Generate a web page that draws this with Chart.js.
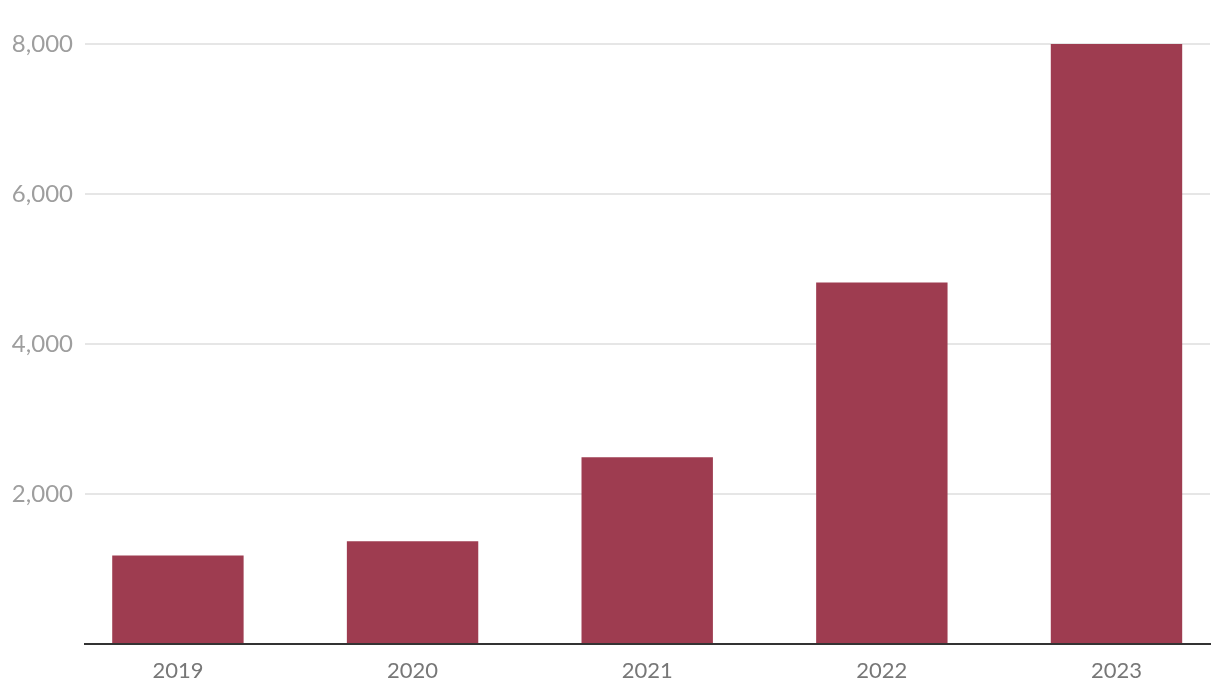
<!DOCTYPE html>
<html lang="en">
<head>
    <meta charset="UTF-8">
    <title>Bar chart 2019-2023</title>
    <script src="https://cdn.jsdelivr.net/npm/chart.js"></script>
    <style>
        html, body { margin: 0; padding: 0; background: #fff; overflow: hidden; }
        .wrap { width: 1220px; height: 696px; }
    </style>
</head>
<body>
    <div class="wrap"><canvas id="graphique"></canvas></div>

    <script>
        // Données
        const years = ['2019', '2020', '2021', '2022', '2023'];
        const values = [1180, 1370, 2490, 4820, 8000];
        const yTicks = [0, 2000, 4000, 6000, 8000];

        const ctx = document.getElementById('graphique').getContext('2d');

        new Chart(ctx, {
            type: 'bar',
            data: {
                datasets: [{
                    data: years.map((y, i) => ({ x: i, y: values[i] })),
                    backgroundColor: '#9e3c50',
                    categoryPercentage: 1,
                    barPercentage: 0.56
                }]
            },
            options: {
                responsive: true,
                maintainAspectRatio: false,
                animation: false,
                layout: { padding: { top: 44, right: 10, bottom: 0, left: 0 } },
                plugins: { legend: { display: false }, tooltip: { enabled: false } },
                scales: {
                    x: {
                        type: 'linear',
                        offset: false,
                        min: -0.396,
                        max: 4.3985,
                        grid: { display: false, drawTicks: false, offset: false },
                        border: { display: true, color: '#333333', width: 2 },
                        afterBuildTicks: (s) => { s.ticks = years.map((_, i) => ({ value: i })); },
                        afterFit: (s) => { s.height = 52; },
                        ticks: {
                            padding: 14,
                            color: '#777777',
                            font: { family: 'Lato', size: 22 },
                            callback: (v) => years[v] ?? ''
                        }
                    },
                    y: {
                        min: 0,
                        max: 8000,
                        afterBuildTicks: (s) => { s.ticks = yTicks.map(v => ({ value: v })); },
                        afterFit: (s) => { s.width = 85; },
                        border: { display: false },
                        grid: {
                            drawTicks: false,
                            lineWidth: 2,
                            color: (c) => c.tick && c.tick.value === 0 ? 'rgba(0,0,0,0)' : '#e6e6e6'
                        },
                        ticks: {
                            padding: 12,
                            color: '#9e9e9e',
                            font: { family: 'Lato', size: 24 },
                            callback: (v) => v === 0 ? '' : v.toLocaleString('en-US')
                        }
                    }
                }
            }
        });
    </script>
</body>
</html>
